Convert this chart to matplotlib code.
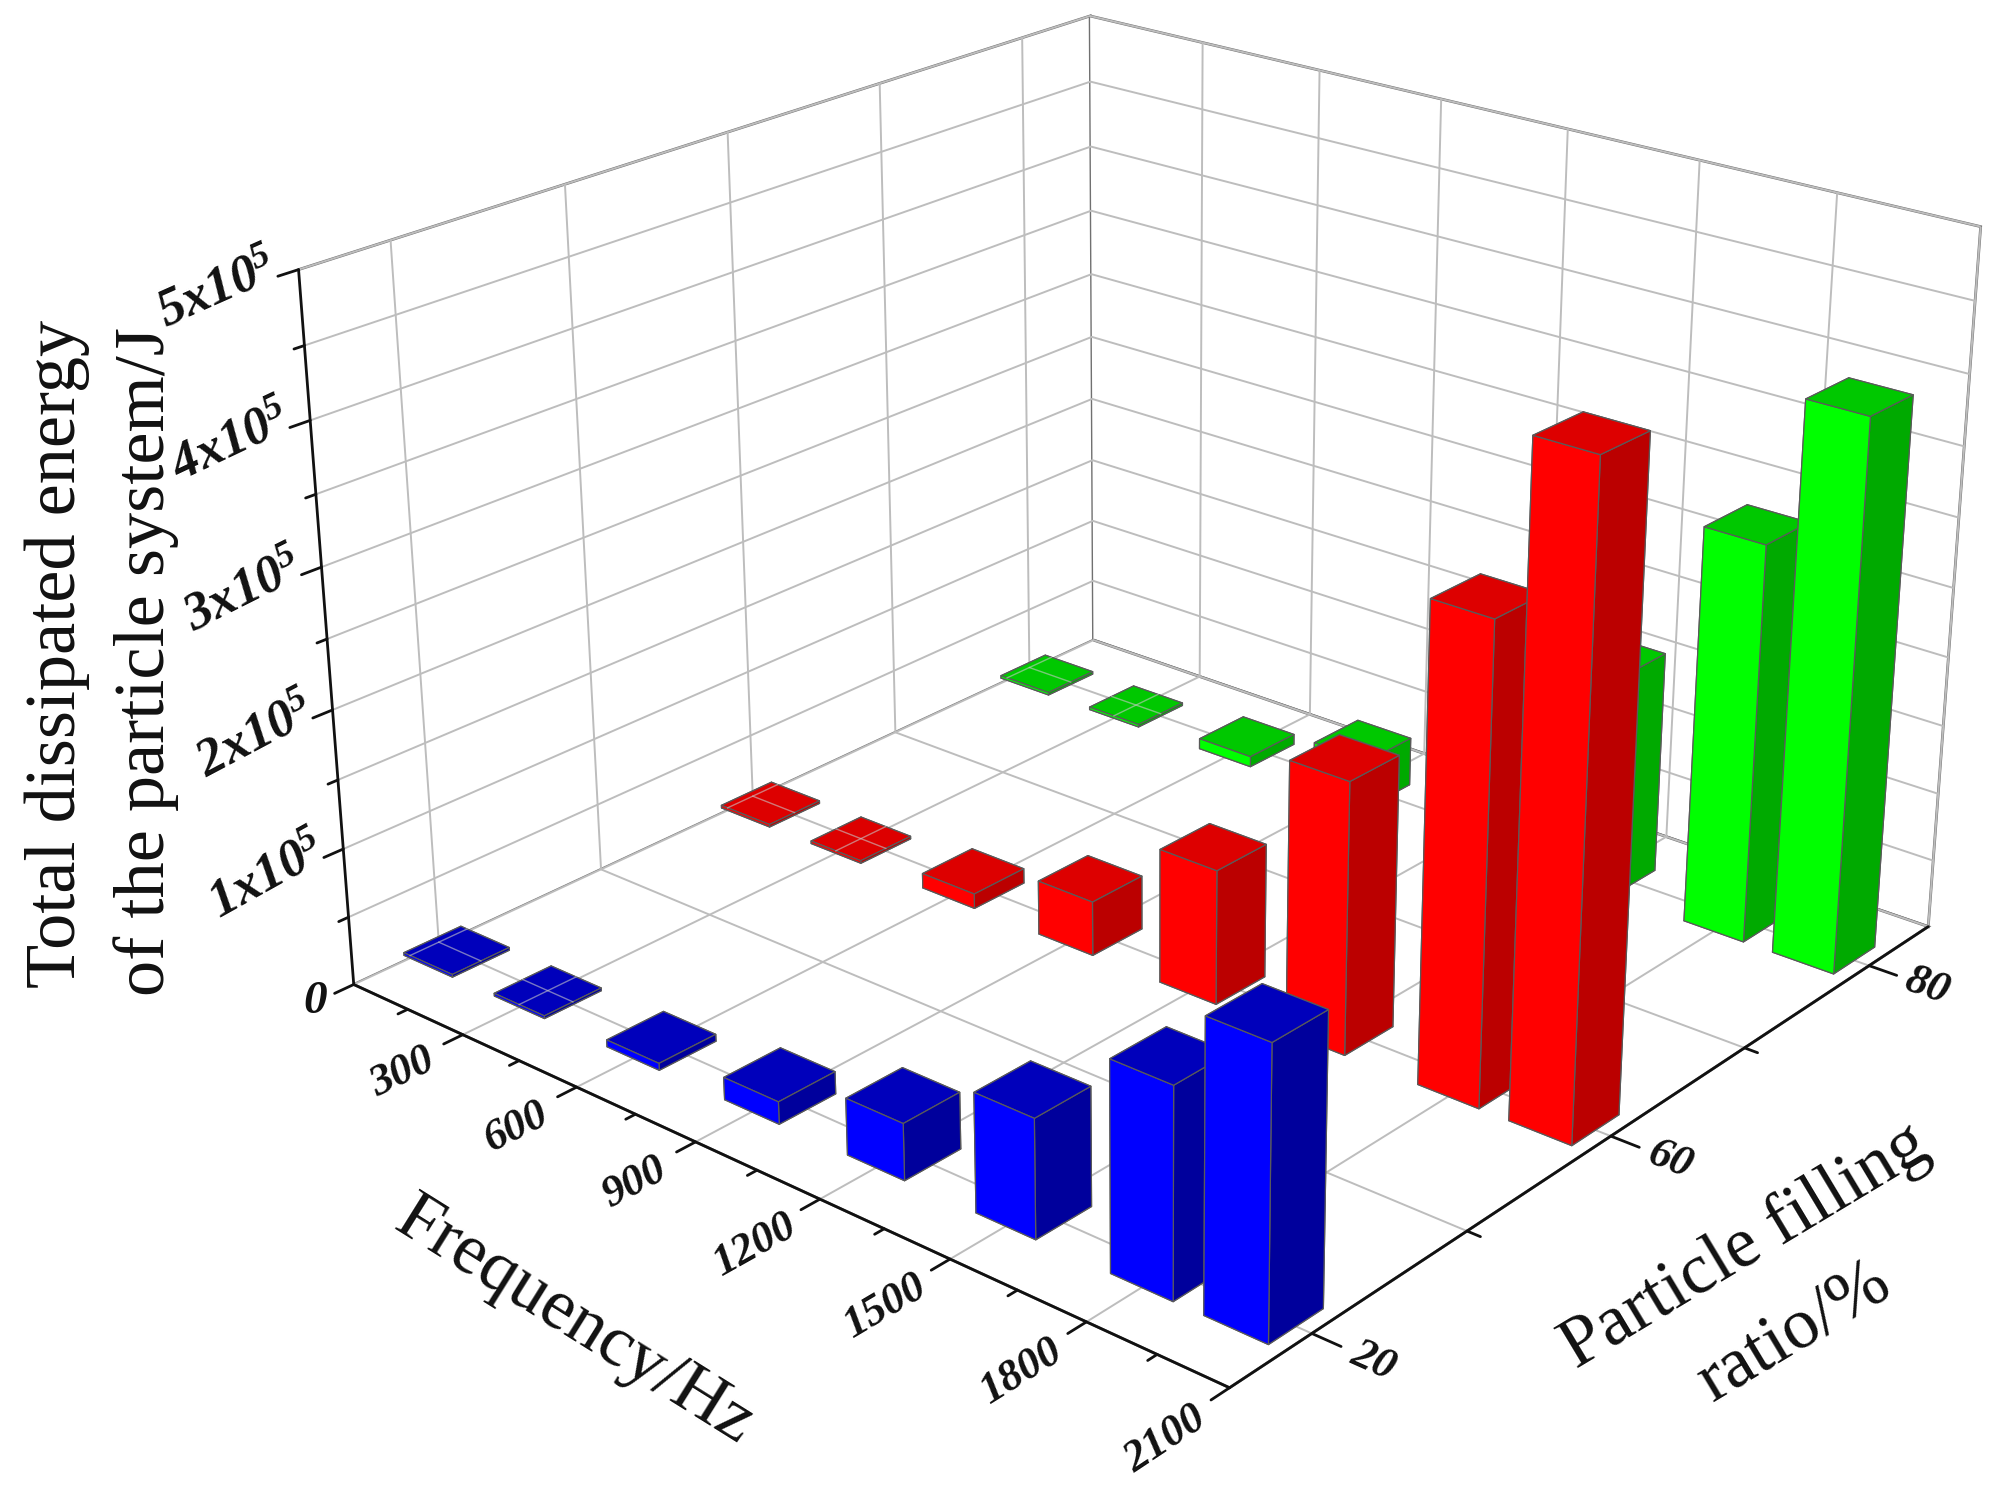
import numpy as np
import matplotlib
matplotlib.use('Agg')
import matplotlib.pyplot as plt

W, H = 2003, 1495
plt.rcParams['font.family'] = ['Liberation Serif', 'DejaVu Serif']
plt.rcParams['mathtext.fontset'] = 'custom'
plt.rcParams['mathtext.rm'] = 'Liberation Serif'
plt.rcParams['mathtext.it'] = 'Liberation Serif:italic'
plt.rcParams['mathtext.bf'] = 'Liberation Serif:bold'
plt.rcParams['mathtext.bfit'] = 'Liberation Serif:italic:bold'
plt.rcParams['grid.color'] = '#bdbdbd'
plt.rcParams['grid.linewidth'] = 1.4

freq = [50, 300, 600, 900, 1200, 1500, 1800, 2000]
rows = [3, 2, 1]  # back to front
row_names = ['80', '60', '20']
blue = [0.02, 0.02, 0.05, 0.16, 0.40, 0.83, 1.44, 1.97]
red = [0.02, 0.02, 0.11, 0.40, 0.98, 1.95, 3.36, 4.60]
green = [0.02, 0.02, 0.08, 0.37, 0.90, 1.65, 2.90, 3.97]
x_ticks = [300, 600, 900, 1200, 1500, 1800, 2100]
z_ticks = [0, 1, 2, 3, 4, 5]
colors = {3: ('#00ff00', '#00c800', '#00aa00'),
          2: ('#ff0000', '#dd0000', '#bb0000'),
          1: ('#0000ff', '#0000bb', '#00009c')}
values = {3: green, 2: red, 1: blue}

fig = plt.figure(figsize=(W / 100, H / 100), dpi=100)
L = 1750.9
ax = fig.add_axes([251.7 / W, -17.3 / H, L / W, L / H], projection='3d')
ax.computed_zorder = False
ax.view_init(23.273, -49.678)
ax.set_proj_type('persp', focal_length=0.4861)
ax.set_box_aspect((1.5035, 1.4960, 1))

xmin, xmax = 0, 2100
ymin, ymax = 0.75, 3.25
ax.set_xticks(x_ticks)
ax.set_yticks([1, 1.5, 2, 2.5, 3])
ax.set_zticks(np.arange(0, 5.5e5, 0.5e5))
ax.set_xticklabels([])
ax.set_yticklabels([])
ax.set_zticklabels([])
ax.tick_params(axis='both', color=(1, 1, 1, 0), width=0)
for a in (ax.xaxis, ax.yaxis, ax.zaxis):
    a.line.set_color((0, 0, 0, 0))
    a.set_pane_color('white')
    a.pane.set_edgecolor('#707070')
    a.pane.set_linewidth(2.0)

# bars, far ones first
bw, bd = 135, 0.17
z = 10
for r in rows:
    for i, f in enumerate(freq):
        h = values[r][i] * 1e5
        c = colors[r]
        faces = [c[1], c[1], c[0], c[0], c[2], c[2]]
        b = ax.bar3d(f - bw / 2, r - bd / 2, 0, bw, bd, h, color=faces, shade=False,
                     edgecolor='#5a5a5a', linewidth=0.9)
        b.set_zorder(z)
        z += 1
        if i < 2:
            # grid shows through the flat bars
            xg = 0 if i == 0 else 300
            ax.plot([max(f - bw / 2, 0), f + bw / 2], [r, r], [h, h], color='#c8c8c8', lw=1, alpha=.6, zorder=z)
            ax.plot([xg, xg], [r - bd / 2, r + bd / 2], [h, h], color='#c8c8c8', lw=1, alpha=.6, zorder=z)
            z += 1

# axes
line = dict(color='#111111', lw=2.0, zorder=5, solid_capstyle='round')
ax.plot([xmin, xmax], [ymin, ymin], [0, 0], **line)
ax.plot([xmax, xmax], [ymin, ymax], [0, 0], **line)
ax.plot([xmin, xmin], [ymin, ymin], [0, 5e5], **line)

for f in np.arange(150, 2100, 150):
    d = 0.055 if f % 300 == 0 else 0.028
    ax.plot([f, f], [ymin, ymin - d], [0, 0], **line)
ax.plot([xmax, xmax], [ymin, ymin - 0.055], [0, 0], **line)
for y in [1, 1.5, 2, 2.5, 3]:
    d = 60 if y % 1 == 0 else 28
    ax.plot([xmax, xmax + d], [y, y], [0, 0], **line)
for v in np.arange(0, 5.5e5, 0.5e5):
    d = 0.055 if v % 1e5 == 0 else 0.028
    ax.plot([xmin, xmin], [ymin, ymin - d], [v, v], **line)

# tick labels, zdir gives the slant of the text
tick_font = dict(fontweight='bold', fontstyle='italic', ha='center', va='center',
                 rotation_mode='anchor', color='#111111')
for f in x_ticks:
    ax.text(f, ymin - 0.175 - 0.012 * (len(str(f)) - 3), -0.06e5, str(f), zdir='y', fontsize=32, **tick_font)
for y, name in zip(rows, row_names):
    ax.text(xmax + 125, y, 0, name, zdir='x', fontsize=32, **tick_font)
for v in z_ticks:
    if v == 0:
        ax.text(xmin, ymin - 0.11, 0, '0', zdir=None, fontsize=34, **tick_font)
    else:
        ax.text(xmin, ymin - 0.21, v * 1e5 + 0.03e5, r'$\mathbfit{%dx10^5}$' % v, zdir=(0, 1, 3e4),
                fontsize=38, **tick_font)

ax.set_xlim(xmin, xmax, view_margin=0)
ax.set_ylim(ymin, ymax, view_margin=0)
ax.set_zlim(0, 5e5, view_margin=0)


def label(px, py, s, rot):
    fig.text(px / W, 1 - py / H, s, fontsize=52, rotation=rot, ha='center', va='center',
             rotation_mode='anchor', color='#111111')


label(57, 654, 'Total dissipated energy', 90)
label(146, 661, 'of the particle system/J', 90)
label(575, 1322, 'Frequency/Hz', -32)
label(1745, 1247, 'Particle filling', 31)
label(1795, 1333, 'ratio/%', 31)

fig.savefig('out.png', dpi=100)
